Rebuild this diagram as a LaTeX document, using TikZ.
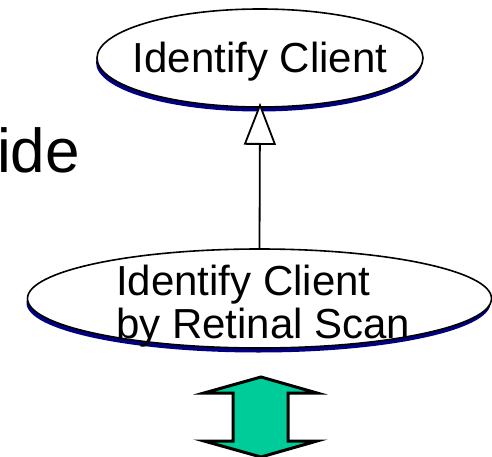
\documentclass[tikz,border=0pt]{standalone}
\usepackage{fontspec}
\setmainfont{Liberation Sans}
\usetikzlibrary{shapes.geometric,shadows,arrows.meta}
\definecolor{shadowblue}{RGB}{0,0,128}
\definecolor{arrowgreen}{RGB}{0,204,153}

\begin{document}
\begin{tikzpicture}[x=1pt,y=-1pt]
	
	\tikzset{
		usecase/.style={shape=ellipse,draw=black,fill=white,line width=1.6pt,inner sep=0pt,
			drop shadow={shadow xshift=-1pt,shadow yshift=-4.5pt,fill=shadowblue,opacity=1}},
		casetext/.style={inner sep=0pt,font=\fontsize{42}{42}\selectfont}
	}
	\useasboundingbox (0,0) rectangle (492,457);
	
	\node[inner sep=0pt,font=\fontsize{62}{62}\selectfont,anchor=base west] (title) at (-3,173) {ide};
	
	\node[usecase,minimum width=326pt,minimum height=98pt] (client) at (260,58) {};
	\node[casetext,anchor=base] (clientlabel) at (260,73) {Identify Client};
	
	\node[usecase,minimum width=464pt,minimum height=99pt] (scan) at (259.5,298.5) {};
	\node[casetext,anchor=base west] (scanlabel) at (116,295)
		{\begin{tabular}[t]{@{}l@{}}Identify Client\\by Retinal Scan\end{tabular}};
	
	\draw[-{Triangle[open,fill=white,length=42pt,width=32pt]}, line width=1.8pt, shorten >=-5pt] (scan.north) -- (client.south);
	
	\draw[line width=3pt,fill=arrowgreen,line join=miter] (261,377) -- (317,393) -- (288,393) -- (288,441) -- (317,441)
		-- (261,457) -- (204,441) -- (233,441) -- (233,393) -- (204,393) -- cycle;
	
\end{tikzpicture}
\end{document}
